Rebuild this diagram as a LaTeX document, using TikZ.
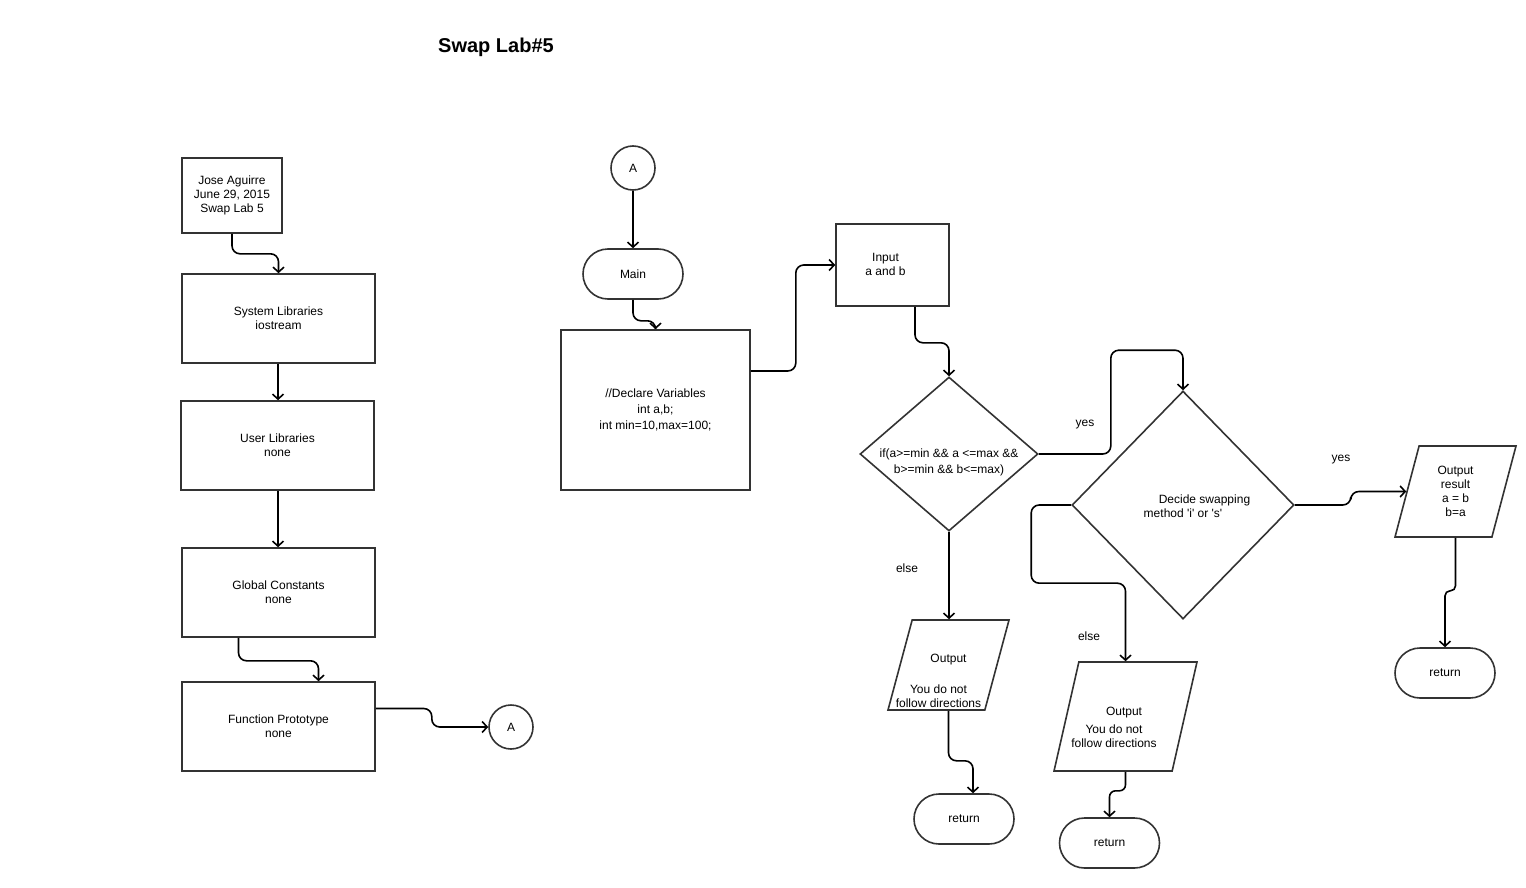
\documentclass[tikz,border=0pt]{standalone}
\usepackage{fontspec}
\setmainfont{Liberation Sans}
\usetikzlibrary{arrows.meta,shapes.geometric}

\tikzset{
  box/.style={draw=black!80, line width=1.6pt, rectangle, align=center},
  term/.style={draw=black!80, line width=1.6pt, rectangle, rounded corners=25pt, minimum width=100pt, minimum height=50pt},
  conn/.style={draw=black!80, line width=1.6pt, circle, minimum size=44pt, inner sep=0pt},
  dec/.style={draw=black!80, line width=1.6pt, diamond, inner sep=0pt},
  iobox/.style={draw=black!80, line width=1.6pt, trapezium, trapezium stretches=true, inner sep=2pt},
  flow/.style={black, line width=1.6pt, rounded corners=8pt, -{Straight Barb[length=5pt,width=11pt]}},
  txt/.style={align=center}
}

\begin{document}
\begin{tikzpicture}[x=1pt, y=-1pt, every node/.style={font=\fontsize{12}{14}\selectfont}]
\useasboundingbox (0,0) rectangle (1526,888);
\node[font=\fontsize{20}{24}\selectfont\bfseries] (title) at (496,47) {Swap Lab\#5};
% left column
\node[box, minimum width=100pt, minimum height=75pt] (hdr) at (232,195.5) {Jose Aguirre\\June 29, 2015\\Swap Lab 5};
\node[box, minimum width=193pt, minimum height=89pt] (syslib) at (278.5,318.5) {System Libraries\\iostream};
\node[box, minimum width=193pt, minimum height=89pt] (usrlib) at (277.5,445.5) {User Libraries\\none};
\node[box, minimum width=193pt, minimum height=89pt] (glob) at (278.5,592.5) {Global Constants\\none};
\node[box, minimum width=193pt, minimum height=89pt] (proto) at (278.5,726.5) {Function Prototype\\none};
\node[conn] (offA) at (511,727) {A};
% main
\node[conn] (onA) at (633,168) {A};
\node[term] (main) at (633,274) {Main};
\node[box, minimum width=189pt, minimum height=160pt, font=\fontsize{12}{16}\selectfont] (decl) at (655.5,410) {//Declare Variables\\int a,b;\\int min=10,max=100;};
\node[box, minimum width=113pt, minimum height=82pt, label={[txt, xshift=-7pt, yshift=1pt]center:{Input\\a and b}}] (input) at (892.5,265) {};
\node[dec, minimum width=178pt, minimum height=154pt, label={[txt, yshift=-8pt, font=\fontsize{12}{16}\selectfont]center:{if(a>=min \&\& a <=max \&\&\\b>=min \&\& b<=max)}}] (range) at (949,454) {};
\node[dec, minimum width=222pt, minimum height=228pt, label={[txt, yshift=-1pt]center:{\hspace*{43pt}Decide swapping\\method \textquotesingle i\textquotesingle{} or \textquotesingle s\textquotesingle}}] (method) at (1183,505) {};
\node[iobox, trapezium left angle=71.6, trapezium right angle=108.4, minimum width=121pt, minimum height=90pt, label={[txt, xshift=-10pt, yshift=-15.5pt]center:{\hspace*{20pt}Output\\[17pt]You do not\\follow directions}}] (out1) at (948.5,665) {};
\node[iobox, trapezium left angle=75.1, trapezium right angle=104.9, minimum width=143pt, minimum height=109pt, label={[txt, xshift=-11.5pt, yshift=-10.5pt]center:{\hspace*{20pt}Output\\[4pt]You do not\\follow directions}}] (out2) at (1125.5,716.5) {};
\node[iobox, trapezium left angle=71.7, trapezium right angle=108.3, minimum width=121pt, minimum height=91pt, label={[txt, yshift=0.5pt]center:{Output\\result\\a = b\\b=a}}] (out3) at (1455.5,491.5) {};
\node[term] (ret1) at (964,819) {return};
\node[term] (ret2) at (1109.5,843) {return};
\node[term] (ret3) at (1445,673) {return};
\node (yes1) at (1085,425) {yes};
\node (else1) at (907,568) {else};
\node (yes2) at (1341,460) {yes};
\node (else2) at (1089,636) {else};
% connectors
\draw[flow] (hdr.south) -- ++(0,20) -| (syslib.north);
\draw[flow] ([xshift=-0.5pt]syslib.south) -- ([xshift=-0.5pt]syslib.south |- usrlib.north);
\draw[flow] ([xshift=0.5pt]usrlib.south) -- ([xshift=0.5pt]usrlib.south |- glob.north);
\draw[flow] ([xshift=-40pt]glob.south) -- ++(0,23) -| ([xshift=40pt]proto.north);
\draw[flow] ([yshift=18pt]proto.east) -- ++(56,0) |- (offA.west);
\draw[flow] (onA) -- (main);
\draw[flow] (main.south) -- ++(0,21) -| (decl.north);
\draw[flow] ([yshift=39pt]decl.east) -- ++(45,0) |- (input.west);
\draw[flow] ([xshift=22.5pt]input.south) -- ++(0,36) -| (range.north);
\draw[flow] (range.east) -- ++(72,0) |- ([yshift=40pt]method.north) -- (method.north);
\draw[flow] (range.south) -- (range.south |- out1.north);
\draw[flow] (out1.south) -- ++(0,50) -| ([xshift=9pt]ret1.north);
\draw[flow] (method.west) -- ++(-40,0) |- ([yshift=78pt]out2.north) -- (out2.north);
\draw[flow, rounded corners=6pt] (out2.south) -- ++(0,19) -| (ret2.north);
\draw[flow, rounded corners=5pt] (out3.south) -- ++(0,53) -| (ret3.north);
\draw[flow] (method.east) -- ++(56,0) |- (out3.west);
\end{tikzpicture}
\end{document}
